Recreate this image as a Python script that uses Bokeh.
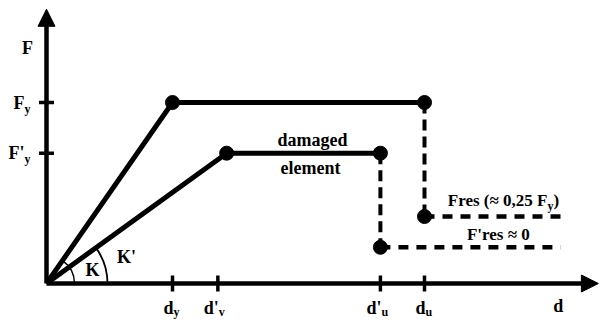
from bokeh.plotting import figure
from bokeh.models import Arrow, NormalHead, Range1d, Label
from bokeh.embed import file_html
from bokeh.resources import INLINE
import math

# ---------------- data ----------------
x_tick_values = [1.0, 1.36, 2.65, 3.0]
x_tick_main = ["d", "d'", "d'", "d"]
x_tick_sub = ["y", "v", "u", "u"]
y_tick_values = [1.0, 0.72]
y_tick_main = ["F", "F'"]
y_tick_sub = ["y", "y"]

d_y = 1.0          # yield displacement, intact
F_y = 1.0          # yield force, intact
d_u = 3.0          # ultimate displacement, intact
F_res = 0.37       # residual force, intact
d_y_dam = 1.43     # yield displacement, damaged
F_y_dam = 0.72     # yield force, damaged
d_u_dam = 2.65     # ultimate displacement, damaged
F_res_dam = 0.20   # residual force, damaged
d_res_end = 4.08   # end of residual branches
x_axis_end = 4.38
y_axis_end = 1.515
angle_K = 55       # degrees (screen)
angle_K_dam = 36

# ---------------- layout ----------------
W, H = 600, 322
sx, sy = 126.0, 181.0          # px per unit
ox, oy = 46.0, 283.0           # origin in figure px
p = figure(width=W, height=H, output_backend="svg", toolbar_location=None,
           x_range=Range1d(-ox / sx, (W - ox) / sx),
           y_range=Range1d(-(H - oy) / sy, oy / sy),
           x_axis_type=None, y_axis_type=None, min_border=0)
p.outline_line_color = None

BLK = "black"

# ---------------- marks ----------------
# stiffness arcs
p.arc(x=0, y=0, radius=28 / sx, start_angle=0, end_angle=angle_K,
      start_angle_units="deg", end_angle_units="deg", line_width=1.5, line_color=BLK)
p.arc(x=0, y=0, radius=61 / sx, start_angle=0, end_angle=angle_K_dam,
      start_angle_units="deg", end_angle_units="deg", line_width=1.8, line_color=BLK)

# intact element
p.line([0, d_y, d_u], [0, F_y, F_y], line_width=5, line_color=BLK)
p.line([d_u, d_u], [F_y, F_res], line_width=4, line_color=BLK, line_dash="11 6")
p.line([d_u, d_res_end], [F_res, F_res], line_width=4.5, line_color=BLK, line_dash="10 8")

# damaged element
p.line([0, d_y_dam, d_u_dam], [0, F_y_dam, F_y_dam], line_width=5, line_color=BLK)
p.line([d_u_dam, d_u_dam], [F_y_dam, F_res_dam], line_width=4, line_color=BLK, line_dash="11 6")
p.line([d_u_dam, d_res_end], [F_res_dam, F_res_dam], line_width=4.5, line_color=BLK, line_dash="10 8")

# ticks
p.scatter(x=x_tick_values, y=[0] * len(x_tick_values), marker="dash", size=16,
          angle=math.pi / 2, line_width=3.5, line_color=BLK)
p.scatter(x=[0] * len(y_tick_values), y=y_tick_values, marker="dash", size=15,
          line_width=3.5, line_color=BLK)

# points
p.scatter(x=[d_y, d_u, d_u, d_y_dam, d_u_dam, d_u_dam],
          y=[F_y, F_y, F_res, F_y_dam, F_y_dam, F_res_dam],
          size=14, fill_color=BLK, line_color=BLK)

# axes with arrows
p.add_layout(Arrow(end=NormalHead(size=17, fill_color=BLK, line_color=BLK),
                   x_start=0, y_start=0, x_end=x_axis_end, y_end=0,
                   line_width=4.5, line_color=BLK))
p.add_layout(Arrow(end=NormalHead(size=17, fill_color=BLK, line_color=BLK),
                   x_start=0, y_start=0, x_end=0, y_end=y_axis_end,
                   line_width=4.5, line_color=BLK))


# ---------------- texts (Label annotations; y offsets: screen px downward) ----------------
def txt(xs, ys, texts, size, xo=0, yo=0, align="left", baseline="middle"):
    for x, y, t in zip(xs, ys, texts):
        p.add_layout(Label(x=x, y=y, text=t, x_offset=xo, y_offset=-yo,
                           text_font="Liberation Serif", text_font_style="bold",
                           text_font_size=f"{size}px", text_color=BLK,
                           text_align=align, text_baseline=baseline))


MAIN, SUB = 18, 12

# x tick labels
txt(x_tick_values, [0] * 4, x_tick_main, MAIN, xo=1, yo=24, align="right")
txt(x_tick_values, [0] * 4, x_tick_sub, SUB, xo=1, yo=28)
# y tick labels
txt([0, 0], y_tick_values, y_tick_main, MAIN, xo=-22, yo=0, align="right")
txt([0, 0], y_tick_values, y_tick_sub, SUB, xo=-22, yo=6)

# axis titles
txt([0], [0], ["F"], MAIN, xo=-19, yo=-236, align="center")
txt([x_axis_end], [0], ["d"], MAIN, xo=-40, yo=22, align="center")

# stiffness labels
txt([0], [0], ["K"], MAIN, xo=46, yo=-14, align="center")
txt([0], [0], ["K'"], MAIN, xo=80, yo=-27, align="center")

# damaged element label
mid = (d_y_dam + d_u_dam) / 2
txt([mid], [F_y_dam], ["damaged"], MAIN, xo=9, yo=-13, align="center")
txt([mid], [F_y_dam], ["element"], MAIN, xo=7, yo=15, align="center")

# residual labels
txt([d_u], [F_res], ["Fres (\u2248 0,25 F"], 17, xo=123, yo=-16, align="right")
txt([d_u], [F_res], ["y"], SUB, xo=123, yo=-11)
txt([d_u], [F_res], [")"], 17, xo=129, yo=-16)
txt([d_u_dam], [F_res_dam], ["F'res \u2248 0"], 17, xo=118, yo=-13, align="center")

open("out.html", "w").write(file_html(p, INLINE))
